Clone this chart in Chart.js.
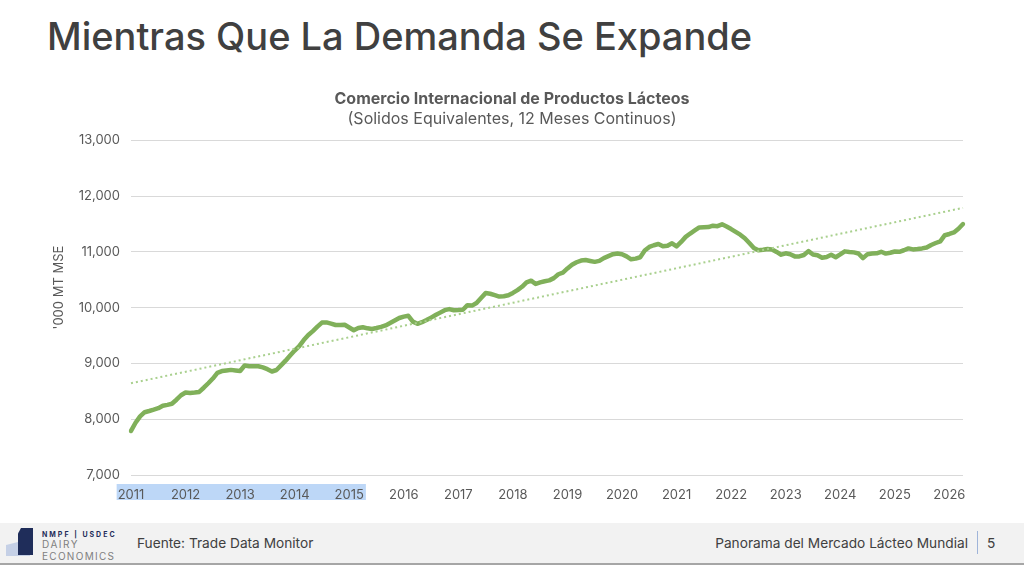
<!DOCTYPE html>
<html lang="es">
<head>
<meta charset="utf-8">
<title>Comercio Internacional de Productos Lácteos</title>
<script src="https://cdn.jsdelivr.net/npm/chart.js@4.4.1/dist/chart.umd.min.js"></script>
<style>
  html, body { margin: 0; padding: 0; width: 1024px; height: 565px; background: #fff; overflow: hidden; font-family: Inter, "Noto Sans", sans-serif; }
  #titulo { position: absolute; left: 47px; top: 13px; margin: 0; font-size: 38px; font-weight: 500; color: #404040; white-space: nowrap; }
  #contenedor { position: absolute; left: 0; top: 80px; width: 1024px; height: 435px; }
  #pie { position: absolute; left: 0; top: 523px; width: 1024px; height: 40px; background: #f2f2f2; border-bottom: 2px solid #a6a6a6; }
  .logo-a { position: absolute; left: 6px; top: 16px; width: 24px; height: 17px; background: #c5d0e6; clip-path: polygon(0 35%, 100% 0, 100% 100%, 0 100%); }
  .logo-b { position: absolute; left: 18px; top: 5px; width: 15px; height: 27px; background: #1f2d5a; clip-path: polygon(20% 0, 100% 0, 100% 100%, 0 100%, 0 20%); }
  .logo-txt { position: absolute; left: 42px; color: #7f7f7f; white-space: nowrap; }
  #fuente { position: absolute; left: 137px; top: 12px; font-size: 13.7px; color: #404040; }
  #panorama { position: absolute; right: 56px; top: 12px; font-size: 13.7px; color: #404040; }
  #barra { position: absolute; left: 977px; top: 8px; width: 1px; height: 23px; background: #9fb4d9; }
  #pagina { position: absolute; left: 987px; top: 12px; font-size: 13.7px; color: #404040; }
</style>
</head>
<body>
<h1 id="titulo">Mientras Que La Demanda Se Expande</h1>
<div id="contenedor"><canvas id="grafica"></canvas></div>
<div id="pie">
  <div class="logo-a"></div>
  <div class="logo-b"></div>
  <div class="logo-txt" style="top:7px;font-size:7px;font-weight:700;letter-spacing:2px;color:#1f2d5a;">NMPF | USDEC</div>
  <div class="logo-txt" style="top:15px;font-size:10px;letter-spacing:1.5px;">DAIRY</div>
  <div class="logo-txt" style="top:27px;font-size:10px;letter-spacing:1.3px;">ECONOMICS</div>
  <div id="fuente">Fuente: Trade Data Monitor</div>
  <div id="panorama">Panorama del Mercado Lácteo Mundial</div>
  <div id="barra"></div>
  <div id="pagina">5</div>
</div>
<script>
  // Años del eje X (cada año tiene sus valores mensuales)
  const anios = ["2011", "2012", "2013", "2014", "2015", "2016", "2017", "2018",
                 "2019", "2020", "2021", "2022", "2023", "2024", "2025", "2026"];

  // Comercio mundial, '000 MT MSE, suma móvil de 12 meses
  const v2011 = [7790, 7937, 8051, 8126, 8148, 8172, 8198, 8242, 8258, 8277, 8350, 8430];
  const v2012 = [8480, 8472, 8480, 8490, 8565, 8645, 8730, 8833, 8864, 8874, 8885, 8875];
  const v2013 = [8865, 8964, 8950, 8950, 8950, 8930, 8898, 8856, 8883, 8965, 9050, 9143];
  const v2014 = [9232, 9312, 9420, 9510, 9580, 9660, 9733, 9736, 9715, 9690, 9690, 9694];
  const v2015 = [9645, 9595, 9635, 9650, 9630, 9618, 9635, 9655, 9682, 9725, 9770, 9815];
  const v2016 = [9840, 9855, 9750, 9712, 9740, 9778, 9822, 9868, 9912, 9956, 9975, 9955];
  const v2017 = [9958, 9963, 10045, 10038, 10085, 10175, 10262, 10250, 10225, 10200, 10205, 10222];
  const v2018 = [10265, 10315, 10375, 10455, 10485, 10425, 10455, 10475, 10490, 10530, 10600, 10630];
  const v2019 = [10705, 10770, 10815, 10845, 10855, 10838, 10822, 10840, 10890, 10925, 10960, 10972];
  const v2020 = [10960, 10920, 10868, 10880, 10905, 11025, 11090, 11120, 11142, 11100, 11110, 11155];
  const v2021 = [11100, 11180, 11270, 11330, 11385, 11440, 11443, 11445, 11470, 11462, 11495, 11455];
  const v2022 = [11410, 11360, 11310, 11245, 11160, 11070, 11030, 11040, 11052, 11045, 11000, 10950];
  const v2023 = [10975, 10960, 10920, 10920, 10945, 11015, 10955, 10940, 10895, 10910, 10948, 10905];
  const v2024 = [10955, 11010, 11000, 10992, 10972, 10888, 10960, 10970, 10975, 11003, 10970, 10985];
  const v2025 = [11008, 11003, 11030, 11063, 11045, 11052, 11063, 11080, 11125, 11160, 11190, 11300];
  const v2026 = [11322, 11350, 11415, 11500];

  // Extremos de la línea de tendencia punteada
  const tendenciaInicio = 8645;
  const tendenciaFin = 11790;

  // Ticks del eje Y
  const ejeYMin = 7000;
  const ejeYMax = 13000;
  const ejeYPaso = 1000;

  const porAnio = [v2011, v2012, v2013, v2014, v2015, v2016, v2017, v2018,
                   v2019, v2020, v2021, v2022, v2023, v2024, v2025, v2026];

  const meses = [];
  const valores = [];
  porAnio.forEach((vals, i) => {
    vals.forEach((v, m) => {
      meses.push(`${anios[i]}-${String(m + 1).padStart(2, "0")}`);
      valores.push(v);
    });
  });

  const tendencia = valores.map(() => null);
  tendencia[0] = tendenciaInicio;
  tendencia[tendencia.length - 1] = tendenciaFin;

  const fuente = "Inter, 'Noto Sans', sans-serif";
  const gris = "#595959";

  // Recuadro azul detrás de las etiquetas 2011-2015
  const resaltado = {
    id: "resaltado",
    beforeDraw(chart) {
      const x = chart.scales.x;
      const ctx = chart.ctx;
      const i1 = meses.indexOf("2011-01");
      const i2 = meses.indexOf("2015-01");
      ctx.save();
      ctx.font = `13px ${fuente}`;
      const w1 = ctx.measureText("2011").width;
      const w2 = ctx.measureText("2015").width;
      const izq = x.getPixelForValue(i1) - w1 / 2 - 1;
      const der = x.getPixelForValue(i2) + w2 / 2 + 2;
      ctx.fillStyle = "#bdd7f7";
      ctx.fillRect(izq, chart.chartArea.bottom + 9, der - izq, 16);
      ctx.restore();
    }
  };

  const ctx = document.getElementById("grafica").getContext("2d");
  new Chart(ctx, {
    type: "line",
    data: {
      labels: meses,
      datasets: [
        {
          label: "Tendencia",
          data: tendencia,
          spanGaps: true,
          borderColor: "#a9d08e",
          borderWidth: 2,
          borderDash: [2, 3],
          pointRadius: 0,
          fill: false
        },
        {
          label: "Comercio",
          data: valores,
          borderColor: "#80b05a",
          borderWidth: 4.5,
          borderJoinStyle: "round",
          borderCapStyle: "round",
          pointRadius: 0,
          tension: 0,
          fill: false
        }
      ]
    },
    options: {
      responsive: true,
      maintainAspectRatio: false,
      animation: false,
      layout: { padding: { left: 0, right: 0, top: 0, bottom: 0 } },
      plugins: {
        legend: { display: false },
        tooltip: { enabled: false },
        title: {
          display: true,
          text: "Comercio Internacional de Productos Lácteos",
          color: gris,
          font: { family: fuente, size: 16, weight: "bold" },
          padding: { top: 10, bottom: 0 }
        },
        subtitle: {
          display: true,
          text: "(Solidos Equivalentes, 12 Meses Continuos)",
          color: gris,
          font: { family: fuente, size: 16 },
          padding: { top: 0, bottom: 12 }
        }
      },
      scales: {
        x: {
          type: "category",
          offset: false,
          grid: { display: false },
          border: { display: false },
          ticks: {
            autoSkip: false,
            maxRotation: 0,
            padding: 4,
            color: gris,
            font: { family: fuente, size: 13 },
            callback: function (val) {
              const lbl = this.getLabelForValue(val);
              return lbl.endsWith("-01") ? lbl.slice(0, 4) : null;
            }
          },
          afterFit: (scale) => { scale.height = 40; }
        },
        y: {
          min: ejeYMin,
          max: ejeYMax,
          grid: { color: "#d9d9d9", drawTicks: false },
          border: { display: false },
          ticks: {
            stepSize: ejeYPaso,
            padding: 11,
            color: gris,
            font: { family: fuente, size: 13 },
            callback: (v) => v.toLocaleString("en-US")
          },
          title: {
            display: true,
            // espacios iniciales para subir el texto como en el original
            text: "\u00a0".repeat(11) + "'000 MT MSE",
            color: gris,
            font: { family: fuente, size: 13 },
            padding: { top: 51, bottom: 0 }
          },
          afterFit: (scale) => { scale.width = 131; }
        },
        derecha: {
          position: "right",
          display: true,
          grid: { display: false },
          border: { display: false },
          ticks: { display: false },
          afterFit: (scale) => { scale.width = 61; }
        }
      }
    },
    plugins: [resaltado]
  });
</script>
</body>
</html>
